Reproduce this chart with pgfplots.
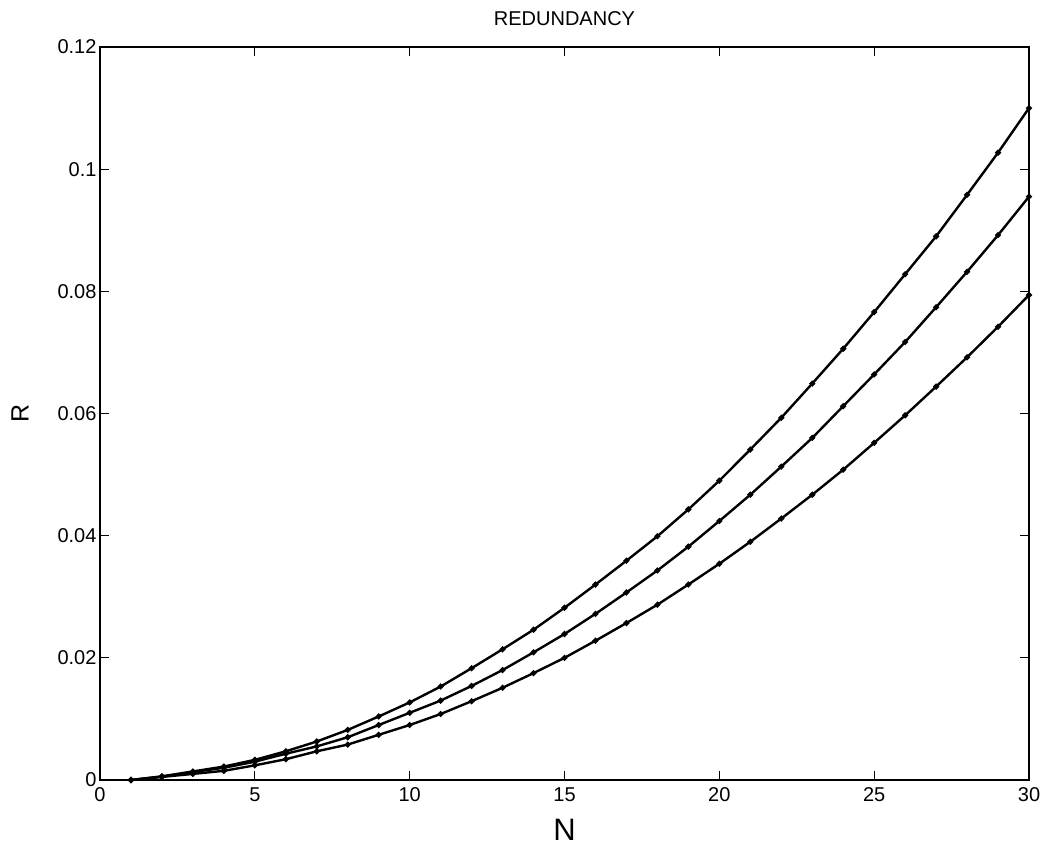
\documentclass[border=0pt]{standalone}
\usepackage{fontspec}
\setmainfont{Liberation Sans}
\usepackage{pgfplots}
\pgfplotsset{compat=1.18}

\begin{document}
\begin{tikzpicture}
\begin{axis}[
  scale only axis,
  width=929pt, height=733pt,
  xmin=0, xmax=30, ymin=0, ymax=0.12,
  xtick={0,5,...,30},
  ytick={0,0.02,0.04,0.06,0.08,0.1,0.12},
  scaled y ticks=false,
  yticklabel style={/pgf/number format/fixed, /pgf/number format/precision=2},
  /pgf/number format/assume math mode=true,
  tick label style={font=\fontsize{20}{24}\selectfont, black},
  xticklabel style={yshift=-4pt},
  tick align=inside,
  major tick length=9pt,
  tick style={line width=1pt, black},
  axis line style={line width=2pt},
  title={REDUNDANCY},
  title style={at={(axis description cs:0.5,1.0218)}, anchor=base,
    font=\fontsize{20}{24}\selectfont},
  xlabel={N},
  xlabel style={at={(axis description cs:0.5,-0.0819)}, anchor=base,
    font=\fontsize{31}{36}\selectfont},
  ylabel={R},
  ylabel style={at={(axis description cs:-0.0861,0.5)}, anchor=center,
    font=\fontsize{25}{30}\selectfont},
  curve/.style={black, line width=2.4pt, mark=*, mark size=1.6pt,
    mark options={solid, fill=black}},
]
% upper curve
\addplot[curve] coordinates {
  (1,0) (2,0.0006) (3,0.0014) (4,0.0022) (5,0.0033) (6,0.0047)
  (7,0.0063) (8,0.0082) (9,0.0104) (10,0.0127) (11,0.0153) (12,0.0183)
  (13,0.0214) (14,0.0246) (15,0.0282) (16,0.0320) (17,0.0359) (18,0.0399)
  (19,0.0443) (20,0.0490) (21,0.0541) (22,0.0593) (23,0.0649) (24,0.0706)
  (25,0.0766) (26,0.0828) (27,0.0890) (28,0.0958) (29,0.1027) (30,0.1100)
};
% middle curve
\addplot[curve] coordinates {
  (1,0) (2,0.00055) (3,0.0013) (4,0.0020) (5,0.0030) (6,0.0043)
  (7,0.0055) (8,0.0070) (9,0.0090) (10,0.0110) (11,0.0130) (12,0.0154)
  (13,0.0180) (14,0.0209) (15,0.0239) (16,0.0272) (17,0.0307) (18,0.0343)
  (19,0.0382) (20,0.0424) (21,0.0467) (22,0.0513) (23,0.0560) (24,0.0612)
  (25,0.0664) (26,0.0717) (27,0.0774) (28,0.0832) (29,0.0892) (30,0.0955)
};
% lower curve
\addplot[curve] coordinates {
  (1,0) (2,0.0005) (3,0.0010) (4,0.0015) (5,0.0024) (6,0.0034)
  (7,0.0047) (8,0.0058) (9,0.0074) (10,0.0090) (11,0.0108) (12,0.0129)
  (13,0.0151) (14,0.0175) (15,0.0200) (16,0.0228) (17,0.0257) (18,0.0287)
  (19,0.0320) (20,0.0354) (21,0.0390) (22,0.0428) (23,0.0467) (24,0.0508)
  (25,0.0552) (26,0.0597) (27,0.0644) (28,0.0692) (29,0.0742) (30,0.0794)
};
\end{axis}
\path (-100pt,-72pt) rectangle (950pt,780pt);
\end{tikzpicture}
\end{document}
